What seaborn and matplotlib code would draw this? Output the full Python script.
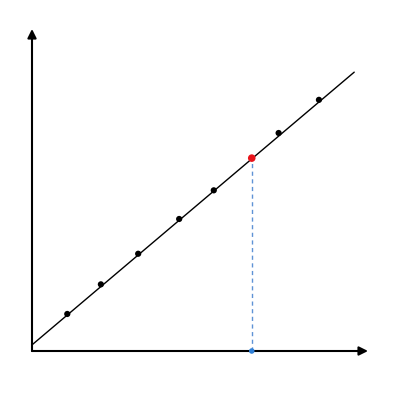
import numpy as np
import pandas as pd
import matplotlib
matplotlib.use("Agg")
import matplotlib.pyplot as plt
import seaborn as sns

# sample points lying on the line
pts_x = [1.05, 2.05, 3.16, 4.38, 5.41, 7.34, 8.54]
pts_y = [1.15, 2.07, 3.02, 4.10, 4.99, 6.77, 7.80]

# fitted line end points
line_x = [0.0, 9.59]
line_y = [0.19, 8.66]

# highlighted point and its projection on the x axis
hl_x = [6.54]
hl_y = [5.99]

sns.set_style("white")

fig = plt.figure(figsize=(4, 4), dpi=100)
ax = fig.add_axes([0.08, 0.1225, 0.84, 0.805])
ax.set_xlim(0, 10)
ax.set_ylim(0, 10)
ax.axis("off")

# axes with arrows
ax.annotate("", xy=(10, 0), xytext=(0, 0),
            arrowprops=dict(arrowstyle="-|>", color="black", lw=1.5,
                            mutation_scale=13, shrinkA=0, shrinkB=0),
            annotation_clip=False)
ax.annotate("", xy=(0, 10), xytext=(0, 0),
            arrowprops=dict(arrowstyle="-|>", color="black", lw=1.5,
                            mutation_scale=13, shrinkA=0, shrinkB=0),
            annotation_clip=False)

# line
line_df = pd.DataFrame({"x": line_x, "y": line_y})
sns.lineplot(data=line_df, x="x", y="y", color="black", lw=1, ax=ax)

# projection of highlighted point
ax.plot([hl_x[0], hl_x[0]], [0, hl_y[0]], color="#5f93d6", lw=1,
        linestyle=(0, (3, 2.5)))

pts_df = pd.DataFrame({"x": pts_x, "y": pts_y})
sns.scatterplot(data=pts_df, x="x", y="y", color="black", s=20,
                edgecolor="none", ax=ax, zorder=3)
sns.scatterplot(x=hl_x, y=hl_y, color="#e8141b", s=30, edgecolor="none",
                ax=ax, zorder=4)
sns.scatterplot(x=hl_x, y=[0], color="#2f7fd6", s=16, edgecolor="none",
                ax=ax, zorder=4, clip_on=False)

ax.axis("off")
fig.savefig("out.png", dpi=100)
